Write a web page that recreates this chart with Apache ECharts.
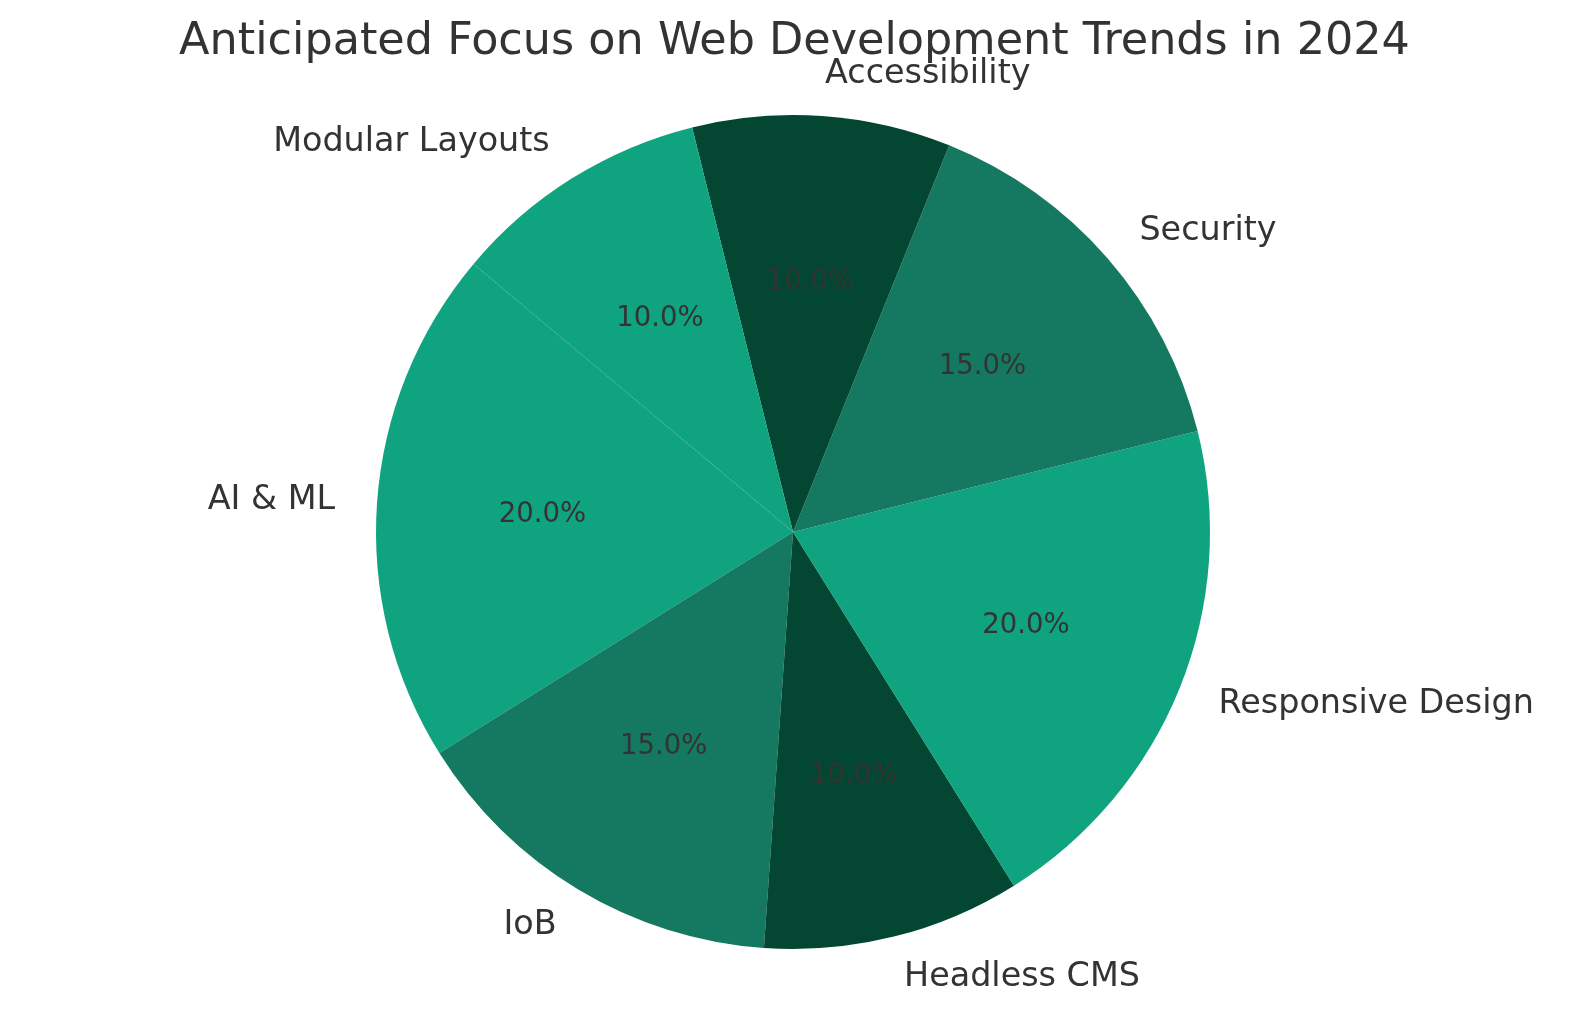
<!DOCTYPE html>
<html>
<head>
<meta charset="utf-8">
<title>Anticipated Focus on Web Development Trends in 2024</title>
<script src="https://cdn.jsdelivr.net/npm/echarts@6/dist/echarts.min.js"></script>
<style>
  html, body { margin: 0; padding: 0; background: #ffffff; }
  #chart { width: 1589px; height: 1015px; }
</style>
</head>
<body>
<div id="chart"></div>
<script>
// 数据部分
const categories = ['AI & ML', 'IoB', 'Headless CMS', 'Responsive Design', 'Security', 'Accessibility', 'Modular Layouts'];
const shares = [20, 15, 10, 20, 15, 10, 10];
const sliceColors = ['#10a37f', '#147960', '#034732'];

const pieCenter = [793, 532];
const pieRadius = 417;

const pieData = categories.map(function (name, i) {
	return {
		name: name,
		value: shares[i],
		itemStyle: { color: sliceColors[i % sliceColors.length] }
	};
});

const chart = echarts.init(document.getElementById('chart'), null, { renderer: 'canvas' });

const option = {
	backgroundColor: '#ffffff',
	animation: false,
	title: {
		text: 'Anticipated Focus on Web Development Trends in 2024',
		left: 'center',
		top: 20,
		padding: 0,
		textStyle: {
			fontFamily: 'DejaVu Sans',
			fontSize: 44.5,
			fontWeight: 'normal',
			color: '#333333'
		}
	},
	series: [
		{
			// 扇区 + 外侧名称
			type: 'pie',
			center: pieCenter,
			radius: pieRadius,
			startAngle: 140,
			clockwise: false,
			avoidLabelOverlap: false,
			silent: true,
			data: pieData,
			itemStyle: { borderWidth: 0 },
			label: {
				show: true,
				position: 'outside',
				distanceToLabelLine: 0,
				padding: [5, 0, 0, 0],
				fontFamily: 'DejaVu Sans',
				fontSize: 33.4,
				color: '#333333',
				formatter: '{b}'
			},
			labelLine: { show: false, length: 42, length2: 0 }
		},
		{
			// 百分比标签 (0.6 半径处)
			type: 'pie',
			center: pieCenter,
			radius: [pieRadius * 0.19, pieRadius],
			startAngle: 140,
			clockwise: false,
			avoidLabelOverlap: false,
			silent: true,
			percentPrecision: 1,
			data: categories.map(function (name, i) {
				return { name: name, value: shares[i] };
			}),
			itemStyle: { color: 'rgba(0,0,0,0)', borderWidth: 0 },
			label: {
				show: true,
				position: 'inside',
				padding: [9, 0, 0, 0],
				fontFamily: 'DejaVu Sans',
				fontSize: 27.5,
				color: '#333333',
				formatter: function (p) {
					return p.percent.toFixed(1) + '%';
				}
			},
			labelLine: { show: false }
		}
	]
};

chart.setOption(option);
window.onresize = chart.resize;
</script>
</body>
</html>
